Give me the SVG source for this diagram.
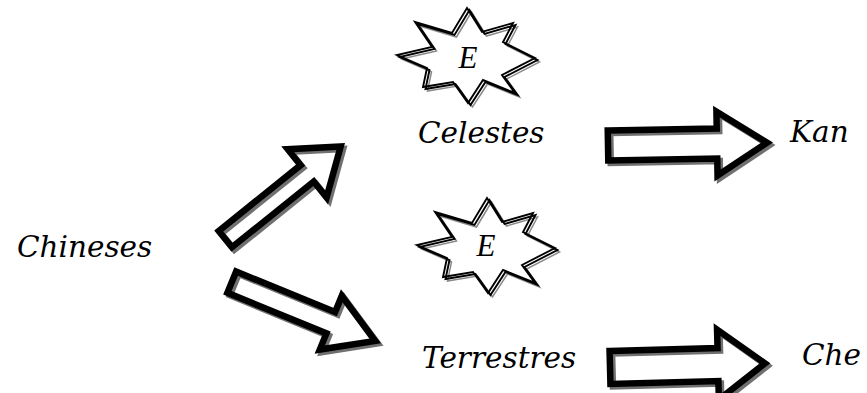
<svg xmlns="http://www.w3.org/2000/svg" xmlns:xlink="http://www.w3.org/1999/xlink" width="867" height="393" viewBox="0 0 867 393">
  <style>
    .lbl { font-family: "DejaVu Serif", "Liberation Serif", serif; font-style: italic; font-size: 29.5px; fill: #000; }
    .e { font-family: "Liberation Serif", "DejaVu Serif", serif; font-style: italic; font-size: 31px; fill: #000; text-anchor: middle; }
    .ar { fill: none; stroke: #000; stroke-width: 6.5; stroke-linejoin: miter; stroke-miterlimit: 10; }
    .arsh { fill: none; stroke: #707070; stroke-width: 6.5; stroke-linejoin: miter; stroke-miterlimit: 10; }
    .st { fill: none; stroke: #000; stroke-width: 1.9; stroke-linejoin: miter; }
    .stsh { fill: none; stroke: #8a8a8a; stroke-width: 1.5; stroke-linejoin: miter; }
  </style>
  <defs>
    <polygon id="star" points="467,8 482,32 513,23 503,42 535,58 502,75 515,93 483,80 468,103 453,82 423,87 427,68 397,55 432,47 415,22 452,33"/>
    <polygon id="a1" points="3,-10.5 108,-10.5 108,-31 151,0 108,31 108,10.5 3,10.5"/>
    <polygon id="a2" points="3,-11.5 110,-11.5 110,-29 158,0 110,29 110,11.5 3,11.5"/>
    <polygon id="a3" points="3,-15 112,-15 112,-32 162,0 112,32 112,15 3,15"/>
    <polygon id="a4" points="3,-16.5 111,-16.5 111,-35 158,0 111,35 111,16.5 3,16.5"/>
  </defs>
  <rect x="0" y="0" width="867" height="393" fill="#fff"/>

  <g id="connectors">
    <g id="arrow-chineses-celestes">
      <g transform="translate(2.5,2.5)"><use xlink:href="#a1" href="#a1" class="arsh" transform="translate(223,241) rotate(-38.8)"/></g>
      <use xlink:href="#a1" href="#a1" class="ar" transform="translate(223,241) rotate(-38.8)"/>
    </g>
    <g id="arrow-chineses-terrestres">
      <g transform="translate(2.5,2.5)"><use xlink:href="#a2" href="#a2" class="arsh" transform="translate(229,281) rotate(22.3)"/></g>
      <use xlink:href="#a2" href="#a2" class="ar" transform="translate(229,281) rotate(22.3)"/>
    </g>
    <g id="arrow-celestes-kan">
      <g transform="translate(2.5,2.5)"><use xlink:href="#a3" href="#a3" class="arsh" transform="translate(605,145.5) rotate(-1)"/></g>
      <use xlink:href="#a3" href="#a3" class="ar" transform="translate(605,145.5) rotate(-1)"/>
    </g>
    <g id="arrow-terrestres-che">
      <g transform="translate(2.5,2.5)"><use xlink:href="#a4" href="#a4" class="arsh" transform="translate(607,367.5) rotate(-1.5)"/></g>
      <use xlink:href="#a4" href="#a4" class="ar" transform="translate(607,367.5) rotate(-1.5)"/>
    </g>
  </g>

  <g id="node-star-1">
    <use xlink:href="#star" href="#star" class="stsh" transform="translate(4.5,4)"/>
    <use xlink:href="#star" href="#star" class="st" transform="translate(2.5,2)"/>
    <use xlink:href="#star" href="#star" class="st"/>
    <text class="e" x="468" y="68">E</text>
  </g>
  <g id="node-star-2">
    <g transform="translate(20,190)">
      <use xlink:href="#star" href="#star" class="stsh" transform="translate(4.5,4)"/>
      <use xlink:href="#star" href="#star" class="st" transform="translate(2.5,2)"/>
      <use xlink:href="#star" href="#star" class="st"/>
    </g>
    <text class="e" x="486" y="256">E</text>
  </g>

  <g id="node-chineses"><text class="lbl" x="17" y="257">Chineses</text></g>
  <g id="node-celestes"><text class="lbl" x="418" y="143">Celestes</text></g>
  <g id="node-terrestres"><text class="lbl" x="422" y="368">Terrestres</text></g>
  <g id="node-kan"><text class="lbl" x="790" y="142">Kan</text></g>
  <g id="node-che"><text class="lbl" x="802" y="365">Che</text></g>
</svg>
